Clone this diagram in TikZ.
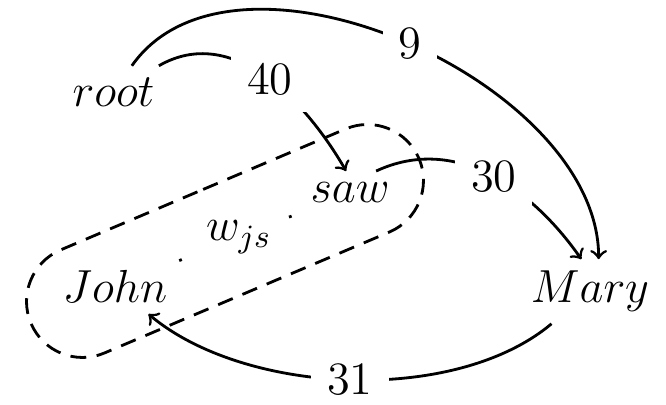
\RequirePackage{fix-cm}
\documentclass[tikz,border=0pt]{standalone}
\usepackage{amsmath}
\usetikzlibrary{shapes.misc}
\begin{document}
\begin{tikzpicture}[>=to, line width=0.8pt,
	every node/.style={font=\fontsize{13.2}{16}\selectfont},
	word/.style={inner sep=3pt},
	weight/.style={fill=white, inner sep=4.5pt},
	group/.style={draw, dash pattern=on 4.5pt off 3pt, rounded rectangle, rotate=23, minimum width=4.45cm, minimum height=1.12cm}]
	\useasboundingbox (0,0) rectangle (6.66,4.05);
	% Words of the sentence:
	\node[word] (root) at (1.135,3.13) {$root$};
	\node[word] (saw) at (3.50,2.12) {$saw$};
	\node[word] (John) at (1.15,1.19) {$John$};
	\node[word] (Mary) at (5.90,1.135) {$Mary$};
	% Pair John - saw:
	\node[group] (pair) at (2.25,1.64) {};
	\draw[loosely dotted] (John) -- node[weight] {$w_{js}$} (saw);
	% Arcs with weights:
	\draw[->] (root) to[out=55, in=90, looseness=0.9] node[weight, pos=0.51] {9} (Mary.75);
	\draw[->] (root) to[out=30, in=120] node[weight, pos=0.53] {40} (saw.100);
	\draw[->] (saw.40) to[out=25, in=125] node[weight, pos=0.52] {30} (Mary.105);
	\draw[->] (Mary) to[out=220, in=320, looseness=0.8] node[weight] {31} (John);
\end{tikzpicture}
\end{document}
